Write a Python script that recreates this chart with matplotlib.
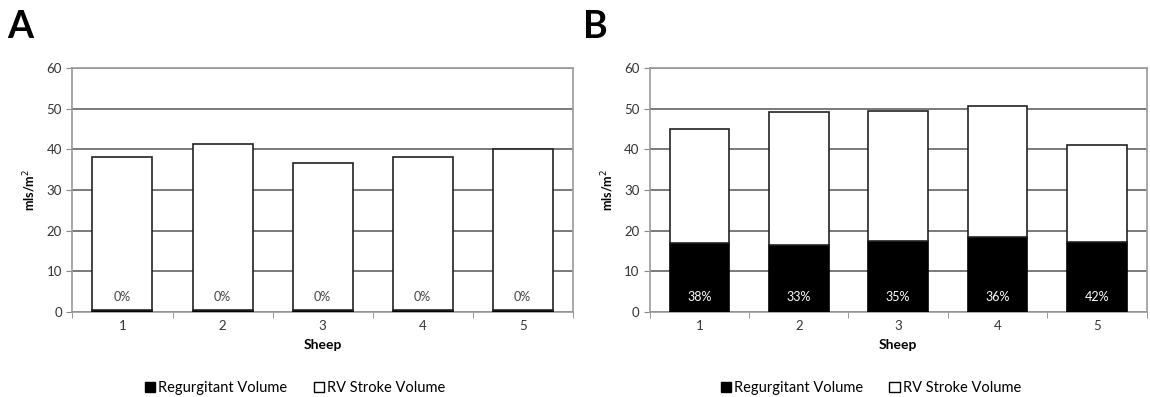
import matplotlib
matplotlib.use("Agg")
import matplotlib.pyplot as plt
import numpy as np
from matplotlib.patches import Patch

plt.rcParams['font.family'] = ['Lato', 'DejaVu Sans']

sheep = ['1', '2', '3', '4', '5']

# panel A
regurg_a = [0.6, 0.6, 0.6, 0.6, 0.6]
total_a = [38.0, 41.4, 36.6, 38.2, 40.1]
pct_a = ['0%', '0%', '0%', '0%', '0%']

# panel B
regurg_b = [17.0, 16.5, 17.5, 18.5, 17.3]
total_b = [45.0, 49.2, 49.3, 50.6, 41.1]
pct_b = ['38%', '33%', '35%', '36%', '42%']


def draw_panel(ax, regurg, total, pct, pct_color):
    x = np.arange(len(sheep))
    stroke = np.array(total) - np.array(regurg)
    ax.bar(x, regurg, width=0.6, color='black', edgecolor='black',
           linewidth=1.2, zorder=3)
    ax.bar(x, stroke, bottom=regurg, width=0.6, color='white',
           edgecolor='#222222', linewidth=1.2, zorder=3)
    for i, p in enumerate(pct):
        ax.text(x[i], 3.8, p, ha='center', va='center', fontsize=9,
                color=pct_color, zorder=4)
    ax.set_xlim(-0.5, len(sheep) - 0.5)
    ax.set_ylim(0, 60)
    ax.set_yticks(np.arange(0, 61, 10))
    ax.set_xticks(x)
    ax.set_xticklabels(sheep, fontsize=9.5, color='#333333')
    ax.set_xticks(np.arange(-0.5, len(sheep)), minor=True)
    ax.tick_params(axis='x', which='major', length=0, pad=6)
    ax.tick_params(axis='x', which='minor', length=4, color='#888888')
    ax.tick_params(axis='y', length=4, color='#888888', labelsize=9.5,
                   labelcolor='#333333')
    ax.yaxis.grid(True, color='#7a7a7a', linewidth=1.4, zorder=0)
    ax.set_axisbelow(True)
    for s in ax.spines.values():
        s.set_color('#9a9a9a')
        s.set_linewidth(1.2)
    ax.set_xlabel('Sheep', fontsize=10, fontweight='bold', labelpad=5)
    ax.set_ylabel('mls/m$^2$', fontsize=9, fontweight='bold', labelpad=6)


fig = plt.figure(figsize=(11.5, 3.97), dpi=100)
ax_a = fig.add_axes([0.063, 0.214, 0.435, 0.615])
ax_b = fig.add_axes([0.565, 0.214, 0.432, 0.615])

draw_panel(ax_a, regurg_a, total_a, pct_a, '#444444')
draw_panel(ax_b, regurg_b, total_b, pct_b, 'white')

handles = [Patch(facecolor='black', edgecolor='black', label='Regurgitant Volume'),
           Patch(facecolor='white', edgecolor='black', label='RV Stroke Volume')]
for ax in (ax_a, ax_b):
    ax.legend(handles=handles, loc='upper center', bbox_to_anchor=(0.445, -0.23),
              ncol=2, frameon=False, fontsize=10.5, handlelength=0.7,
              handleheight=0.7, handletextpad=0.2, columnspacing=1.8)

fig.text(0.006, 0.975, 'A', fontsize=27, fontweight='bold', va='top')
fig.text(0.507, 0.975, 'B', fontsize=27, fontweight='bold', va='top')

fig.savefig('out.png', dpi=100, facecolor='white')
